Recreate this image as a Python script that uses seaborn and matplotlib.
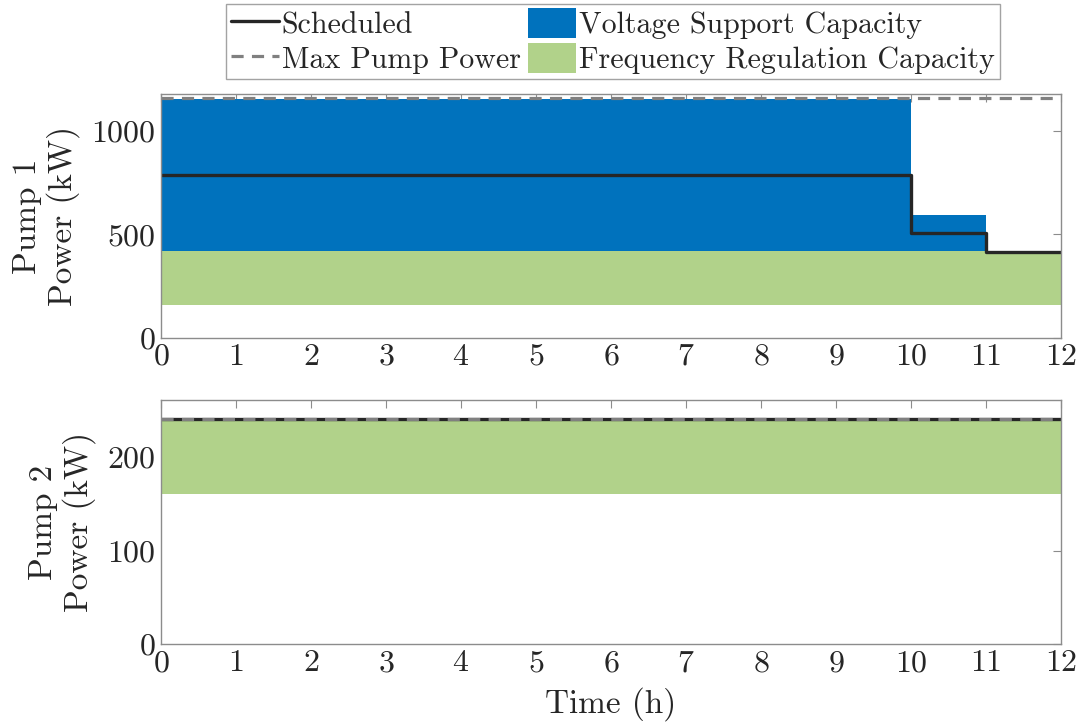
import numpy as np
import pandas as pd
import matplotlib
matplotlib.use("Agg")
import matplotlib.pyplot as plt
import seaborn as sns
from matplotlib.lines import Line2D
from matplotlib.patches import Patch

# ---- data ----
time_edges = [0, 10, 11, 12]
hours_ticks = list(range(0, 13))

p1_scheduled = [788, 506, 416]
p1_freq_low = [159, 159, 159]
p1_freq_high = [418, 418, 418]
p1_volt_high = [1155, 595, 418]
p1_max_power = 1160

p2_scheduled = [241, 241, 241]
p2_freq_low = [161, 161, 161]
p2_freq_high = [239, 239, 239]
p2_max_power = 241

p1_yticks = [0, 500, 1000]
p2_yticks = [0, 100, 200]

legend_labels = ["Scheduled", "Max Pump Power",
                 "Voltage Support Capacity", "Frequency Regulation Capacity"]

# ---- style ----
sns.set_theme(style="white")
plt.rcParams["font.family"] = ["cmr10", "DejaVu Serif"]
plt.rcParams["mathtext.fontset"] = "cm"
plt.rcParams["axes.formatter.use_mathtext"] = True

BLUE = "#0072BD"
GREEN = "#B1D28A"
GRAY = "#808080"
BLACK = "#262626"
SPINE = "#8c8c8c"
FS_TICK = 23
FS_LABEL = 24
FS_LEG = 21.6
DASH = (0, (3.8, 2.6))

fig = plt.figure(figsize=(10.79, 7.23), dpi=100)
ax1 = fig.add_axes([0.1492, 0.5325, 0.8341, 0.3375])
ax2 = fig.add_axes([0.1492, 0.1089, 0.8341, 0.3378])


def ext(v):
    return list(v) + [v[-1]]


def draw(ax, sched, flo, fhi, vhi, pmax, ylim, yticks, ylabel):
    t = np.array(time_edges, dtype=float)
    ax.fill_between(t, ext(flo), ext(fhi), step="post", color=GREEN, lw=0)
    if vhi is not None:
        ax.fill_between(t, ext(fhi), ext(vhi), step="post", color=BLUE, lw=0)
    df = pd.DataFrame({"t": t, "p": ext(sched)})
    sns.lineplot(data=df, x="t", y="p", ax=ax, drawstyle="steps-post",
                 color=BLACK, lw=2.4, legend=False)
    dfm = pd.DataFrame({"t": [t[0], t[-1]], "p": [pmax, pmax]})
    sns.lineplot(data=dfm, x="t", y="p", ax=ax, color=GRAY, lw=2.3,
                 linestyle=DASH, legend=False)
    ax.set_xlim(0, 12)
    ax.set_ylim(*ylim)
    ax.set_xticks(hours_ticks)
    ax.set_yticks(yticks)
    ax.set_ylabel(ylabel, fontsize=FS_LABEL, linespacing=1.15, labelpad=8)
    ax.set_xlabel("")
    ax.tick_params(direction="in", top=True, right=True, length=6,
                   width=0.8, color=SPINE, labelsize=FS_TICK, labelcolor=BLACK,
                   pad=4)
    for s in ax.spines.values():
        s.set_color(SPINE)
        s.set_linewidth(1.0)


draw(ax1, p1_scheduled, p1_freq_low, p1_freq_high, p1_volt_high,
     p1_max_power, (0, 1178), p1_yticks, "Pump 1\nPower (kW)")
draw(ax2, p2_scheduled, p2_freq_low, p2_freq_high, None,
     p2_max_power, (0, 261), p2_yticks, "Pump 2\nPower (kW)")
ax2.set_xlabel("Time (h)", fontsize=FS_LABEL, labelpad=7)

handles = [Line2D([], [], color=BLACK, lw=2.4),
           Line2D([], [], color=GRAY, lw=2.3, linestyle=DASH),
           Patch(facecolor=BLUE, edgecolor="none"),
           Patch(facecolor=GREEN, edgecolor="none")]
leg = fig.legend(handles, legend_labels, ncol=2, loc="center",
                 bbox_to_anchor=(0.568, 0.943), fontsize=FS_LEG,
                 frameon=True, fancybox=False, handlelength=1.6,
                 handleheight=1.15, handletextpad=0.1, columnspacing=0.25,
                 labelspacing=0.14, borderpad=0.15, borderaxespad=0)
leg.get_frame().set_edgecolor(SPINE)
leg.get_frame().set_linewidth(1.0)

fig.savefig("out.png", dpi=100)
